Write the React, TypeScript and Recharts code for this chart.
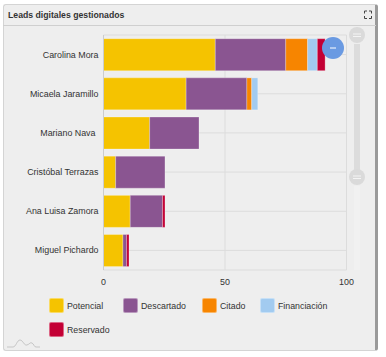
import { BarChart, Bar, XAxis, YAxis, CartesianGrid } from "recharts";

const names = [
  "Carolina Mora",
  "Micaela Jaramillo",
  "Mariano Nava",
  "Cristóbal Terrazas",
  "Ana Luisa Zamora",
  "Miguel Pichardo",
];
const potencial = [46, 34, 19, 5, 11, 8];
const descartado = [29, 25, 20.3, 20.3, 13.3, 1.5];
const citado = [9, 2, 0, 0, 0, 0];
const financiacion = [4, 2.5, 0, 0, 0, 0];
const reservado = [3.2, 0, 0, 0, 1, 1];
const xTicks = [0, 50, 100];

const series = [
  { key: "Potencial", values: potencial, color: "#f5c300" },
  { key: "Descartado", values: descartado, color: "#8a5591" },
  { key: "Citado", values: citado, color: "#f78500" },
  { key: "Financiación", values: financiacion, color: "#a2cbf0" },
  { key: "Reservado", values: reservado, color: "#c30035" },
];

const data = names.map((name, i) => {
  const row: Record<string, string | number> = { name };
  series.forEach((s) => {
    row[s.key] = s.values[i];
  });
  return row;
});

const font = "Helvetica, Arial, 'Liberation Sans', sans-serif";

// plain text tick so the long names stay on one line
function NameTick({ x, y, payload }: any) {
  const shift = payload.value === "Mariano Nava" ? -3 : 0;
  return (
    <text x={x + 1 + shift} y={y} dy={3} textAnchor="end" fontSize={8.9} fill="#333">
      {payload.value}
    </text>
  );
}

function ChartLegend() {
  return (
    <>
      {series.map((s, i) => (
        <div
          key={s.key}
          style={{
            position: "absolute",
            left: [49, 123, 202, 260, 49][i],
            top: i === 4 ? 322 : 298,
            display: "flex",
            alignItems: "center",
            height: 15,
            fontSize: 8.8,
            color: "#333",
          }}
        >
          <span
            style={{
              width: 15,
              height: 15,
              boxSizing: "border-box",
              borderRadius: 2,
              background: s.color,
              border: "1px solid #ffffff66",
              marginRight: 3,
              display: "inline-block",
            }}
          />
          {s.key}
        </div>
      ))}
    </>
  );
}

export default function App() {
  return (
    <div
      style={{
        position: "fixed",
        left: 0,
        top: 0,
        width: 386,
        height: 357,
        background: "#fff",
        fontFamily: font,
      }}
    >
      <div
        style={{
          position: "absolute",
          left: 3,
          top: 4,
          width: 375,
          height: 347,
          background: "#eeeeee",
          border: "1px solid #d4d4d4",
          borderRight: "3px solid #9a9a9a",
          borderRadius: 3,
          boxSizing: "border-box",
        }}
      />
      <div
        style={{
          position: "absolute",
          left: 3,
          top: 25,
          width: 373,
          height: 1,
          background: "#cfcfcf",
        }}
      />
      <div
        style={{
          position: "absolute",
          left: 8,
          top: 10,
          fontSize: 8.7,
          fontWeight: 700,
          color: "#333",
        }}
      >
        Leads digitales gestionados
      </div>

      <div style={{ position: "absolute", left: 0, top: 0 }}>
        <BarChart
          width={386}
          height={357}
          data={data}
          layout="vertical"
          margin={{ top: 35, right: 39.5, left: 5, bottom: 67 }}
          barCategoryGap={3.7}
        >
          <CartesianGrid stroke="#dcdcdc" strokeWidth={1} />
          <XAxis
            type="number"
            domain={[0, 100]}
            ticks={xTicks}
            tickLine={false}
            axisLine={false}
            height={20}
            tickMargin={3}
            tick={{ fontSize: 8.9, fill: "#333" }}
          />
          <YAxis
            type="category"
            dataKey="name"
            width={98.5}
            tickLine={false}
            axisLine={{ stroke: "#cccccc" }}
            tickMargin={0}
            tick={NameTick}
            interval={0}
          />
          {series.map((s) => (
            <Bar
              key={s.key}
              dataKey={s.key}
              stackId="a"
              fill={s.color}
              stroke="#ffffff"
              strokeOpacity={0.25}
              isAnimationActive={false}
            />
          ))}
        </BarChart>
      </div>

      <ChartLegend />

      <svg
        width={386}
        height={357}
        style={{ position: "absolute", left: 0, top: 0, pointerEvents: "none" }}
      >
        <rect x={354} y={44} width={6} height={126} fill="#dcdcdc" />
        <rect x={354} y={186} width={6} height={84} fill="#f1f1f1" />
        <circle cx={357} cy={35} r={8} fill="#dadada" />
        <path d="M353 34h8M353 36.500h8" stroke="#f4f4f4" />
        <circle cx={357} cy={177} r={8} fill="#dadada" />
        <path d="M353 176h8M353 178.500h8" stroke="#f4f4f4" />
        <circle cx={333} cy={48} r={11} fill="#6a9ae2" />
        <path d="M330 48h6" stroke="#fff" strokeWidth={1} />
        <path
          d="M364.500 13.500v-2.500h2.500M369 11h2.500v2.500M371.500 16v2.500h-2.500M367 18.500h-2.500v-2.500"
          fill="none"
          stroke="#444"
          strokeWidth={1}
        />
        <path
          d="M7 347h6c3 0 4-7 7-7s4 6 7 5 3-3 5-2 2 4 4 4h4"
          fill="none"
          stroke="#b5b5b5"
          strokeWidth={0.7}
        />
      </svg>
    </div>
  );
}
